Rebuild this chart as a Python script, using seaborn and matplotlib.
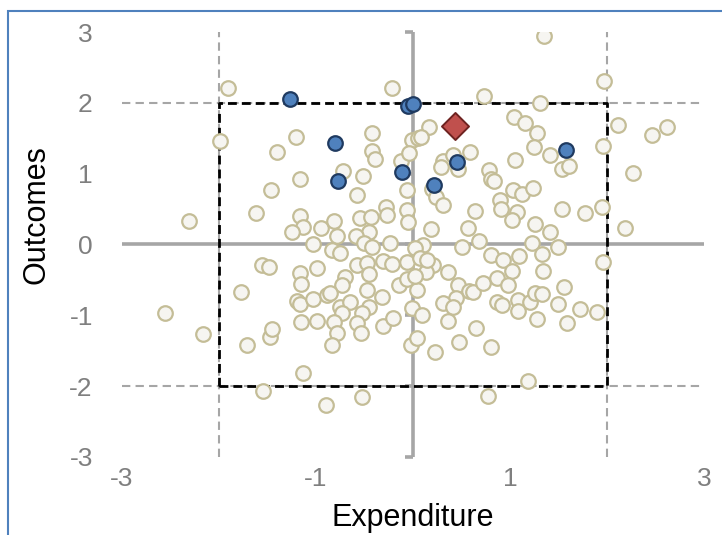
import matplotlib
matplotlib.use("Agg")
import matplotlib.pyplot as plt
from matplotlib.patches import Rectangle
import seaborn as sns

# expenditure / outcome scores (standardised units)
other_exp = [-1.91, -0.22, 1.35, 0.73, 1.31, 1.97, -1.99, -1.21, -1.40, -0.42, -0.42, -0.39, -0.12, -0.01, 0.05,
             -0.04, -0.72, -0.52, -1.17, -1.46, -0.58, -0.06, -0.28, -0.27, -0.06, -0.05, -1.62, -2.31, -1.17, -1.13,
             -1.25, -0.95, -0.81, -0.78, -0.55, -0.43, -0.45, -0.59, -0.51, -0.24, -1.03, 0.17, 0.08, 1.04, 1.15,
             1.28, 1.25, 1.41, 1.54, 1.61, 0.59, 0.31, 0.29, 0.46, 0.41, 1.05, 0.78, 0.80, 0.84, 0.20,
             0.24, 0.31, 1.03, 1.12, 1.24, 0.90, 0.91, 1.07, 1.02, 0.64, 1.54, 1.77, 1.26, 1.41, 0.19,
             0.57, 0.68, 0.51, 1.23, 1.50, 0.10, 0.02, 2.11, 2.46, 2.62, 1.96, 2.27, 1.95, 2.19,
             -0.83, -0.75, -0.42, -1.56, -1.48, -0.99, -0.58, -0.47, -0.31, -0.22, -0.06, -1.17, -1.15, -0.70, -0.73,
             -0.45, -0.14, -0.06, -1.77, -0.47, -0.32, -1.20, -1.17, -1.03, -0.89, -0.86, -0.75, -0.65, -0.45, -0.53,
             -0.73, -1.15, -0.99, -0.81, -0.58, -0.54, -0.78, -0.83, -0.31, -0.21, -2.56, -2.17, -1.71, -1.47, -1.45,
             -1.13, -1.55, -0.90, -0.53, -0.01, -0.02, 0.04, 0.80, 0.93, 1.02, 1.09, 1.33, 1.34, 0.07,
             0.21, 0.13, 0.04, 0.36, 0.46, 0.58, 0.62, 0.72, 0.87, 0.98, 0.44, 0.31, 0.41, 0.09, 0.36,
             0.87, 0.92, 1.08, 1.08, 1.21, 1.26, 1.33, 1.28, 1.50, 1.56, 1.59, 1.72, 1.90, 1.96, 0.65,
             0.47, 0.80, 0.23, 1.19, 0.77, 0.02, 0.14]
other_out = [2.21, 2.21, 2.95, 2.10, 2.00, 2.31, 1.46, 1.52, 1.31, 1.58, 1.32, 1.21, 1.18, 1.48, 1.51,
             1.29, 1.04, 0.97, 0.93, 0.77, 0.70, 0.77, 0.53, 0.42, 0.49, 0.32, 0.45, 0.33, 0.40, 0.25,
             0.18, 0.23, 0.33, 0.12, 0.37, 0.39, 0.18, 0.12, 0.02, 0.02, 0.01, 1.66, 1.52, 1.80, 1.72,
             1.58, 1.38, 1.26, 1.07, 1.11, 1.31, 1.18, 1.10, 1.07, 1.26, 1.19, 1.05, 0.93, 0.90, 0.78,
             0.67, 0.56, 0.77, 0.71, 0.80, 0.63, 0.50, 0.46, 0.35, 0.47, 0.50, 0.45, 0.29, 0.18, 0.22,
             0.23, 0.05, -0.04, 0.02, -0.04, -0.01, -0.05, 1.69, 1.55, 1.66, 1.39, 1.01, 0.53, 0.23,
             -0.08, -0.12, -0.04, -0.29, -0.32, -0.33, -0.29, -0.26, -0.23, -0.28, -0.25, -0.40, -0.56, -0.46, -0.57,
             -0.42, -0.57, -0.49, -0.67, -0.64, -0.74, -0.80, -0.84, -0.77, -0.71, -0.69, -0.88, -0.81, -0.88, -0.97,
             -0.97, -1.10, -1.08, -1.10, -1.11, -1.25, -1.25, -1.42, -1.15, -1.04, -0.97, -1.27, -1.42, -1.31, -1.19,
             -1.82, -2.07, -2.27, -2.16, -0.90, -1.42, -1.32, -0.15, -0.22, -0.37, -0.16, -0.13, -0.37, -0.19,
             -0.29, -0.39, -0.64, -0.39, -0.57, -0.66, -0.67, -0.54, -0.47, -0.57, -0.76, -0.83, -0.88, -1.00, -1.08,
             -0.81, -0.86, -0.78, -0.94, -0.81, -0.69, -0.70, -1.05, -0.84, -0.60, -1.11, -0.91, -0.95, -0.25, -1.18,
             -1.38, -1.45, -1.52, -1.93, -2.14, -0.45, -0.22]

# highlighted comparators (blue) and the focus unit (red diamond)
peer_exp = [-1.27, -0.05, 0.00, -0.80, -0.11, -0.77, 0.45, 0.22, 1.58, 0.43]
peer_out = [2.06, 1.96, 1.99, 1.44, 1.02, 0.90, 1.17, 0.84, 1.34, 1.68]
focus_exp = [0.43]
focus_out = [1.68]

x_ticks = [-3, -1, 1, 3]
y_ticks = [-3, -2, -1, 0, 1, 2, 3]
band = 2  # +/- 2 sd box

sns.set_style("white")
plt.rcParams['font.family'] = ['Liberation Sans', 'DejaVu Sans']
plt.rcParams['axes.unicode_minus'] = False

GREY = '#a6a6a6'

fig, ax = plt.subplots(figsize=(7.22, 5.35), dpi=100)
fig.subplots_adjust(left=0.169, right=0.975, bottom=0.146, top=0.940)

# axes through the origin
ax.plot([-3, 3], [0, 0], color=GREY, lw=2.6, zorder=1, clip_on=False, solid_capstyle='butt')
ax.plot([0, 0], [-3, 3], color=GREY, lw=2.6, zorder=1, clip_on=False, solid_capstyle='butt')
ax.hlines(y_ticks, -0.085, 0, colors=GREY, lw=2.6, zorder=1, clip_on=False)

# grey guide lines at +/- band
ax.vlines([-band, band], -3, 3, colors=GREY, lw=1.5, linestyles=(0, (4, 2.5)), zorder=1, clip_on=False)
ax.hlines([-band, band], -3, 3, colors=GREY, lw=1.5, linestyles=(0, (4, 2.5)), zorder=1, clip_on=False)

# black dashed box
ax.plot([-band, band, band, -band, -band], [-band, -band, band, band, -band],
        color='black', lw=2, linestyle=(0, (3.2, 1.8)), zorder=2)

sns.scatterplot(x=other_exp, y=other_out, s=110, color='#f6f5f1', edgecolor='#c4bd97',
                linewidth=1.6, ax=ax, zorder=3, legend=False)
sns.scatterplot(x=peer_exp, y=peer_out, s=110, color='#4f81bd', edgecolor='#1f3a60',
                linewidth=1.6, ax=ax, zorder=4, legend=False)
sns.scatterplot(x=focus_exp, y=focus_out, s=190, marker='D', color='#c0504d', edgecolor='#6e2321',
                linewidth=1.4, ax=ax, zorder=5, legend=False)

ax.set_xlim(-3, 3)
ax.set_ylim(-3, 3)
ax.set_xticks(x_ticks)
ax.set_yticks(y_ticks)
ax.set_xticklabels([str(t) for t in x_ticks])
ax.set_yticklabels([str(t) for t in y_ticks])
ax.tick_params(axis='both', length=0, labelsize=19, labelcolor='#7f7f7f')
ax.tick_params(axis='y', pad=21)
ax.tick_params(axis='x', pad=7)
for s in ax.spines.values():
    s.set_visible(False)

ax.set_xlabel('Expenditure', fontsize=22, color='black')
ax.set_ylabel('Outcomes', fontsize=22, color='black')
ax.xaxis.set_label_coords(0.5, -0.108)
ax.yaxis.set_label_coords(-0.122, 0.57)

# chart frame (left and top edges show in the crop)
fig.add_artist(Rectangle((8 / 722, -0.1), 1.2, 1.08, transform=fig.transFigure,
                         fill=False, edgecolor='#4f81bd', lw=1.5))

fig.savefig('out.png', dpi=100)
